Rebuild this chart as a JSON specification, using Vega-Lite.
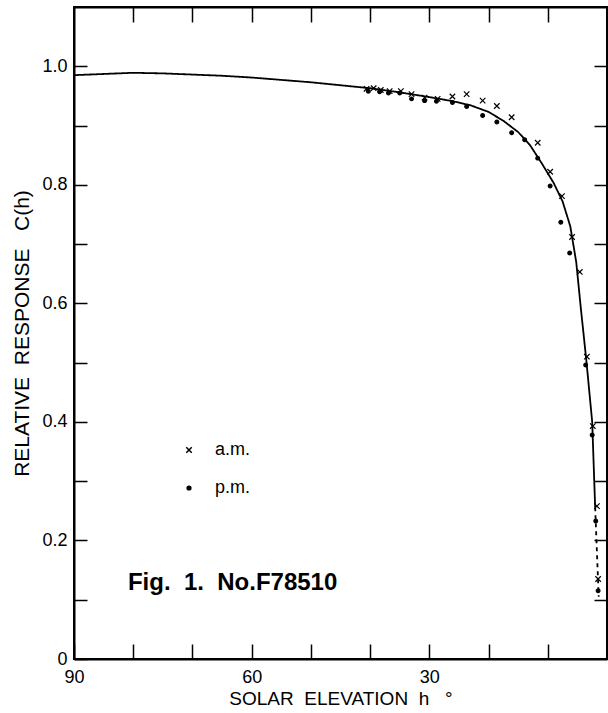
{
  "$schema": "https://vega.github.io/schema/vega-lite/v6.json",
  "width": 533,
  "height": 652,
  "autosize": {"type": "none"},
  "padding": {"left": 74, "top": 7, "right": 1, "bottom": 54},
  "background": "white",
  "config": {
    "view": {"stroke": "black", "strokeWidth": 2},
    "font": "Liberation Sans",
    "axis": {"grid": false, "domainColor": "black", "tickColor": "black", "labelColor": "black", "titleColor": "black", "labelFont": "Liberation Sans", "titleFont": "Liberation Sans", "titleFontWeight": "normal"}
  },
  "datasets": {
    "curve": [
      {"h": 90, "c": 0.985, "seg": "solid"},
      {"h": 85, "c": 0.987, "seg": "solid"},
      {"h": 80, "c": 0.989, "seg": "solid"},
      {"h": 75, "c": 0.988, "seg": "solid"},
      {"h": 70, "c": 0.986, "seg": "solid"},
      {"h": 65, "c": 0.984, "seg": "solid"},
      {"h": 60, "c": 0.981, "seg": "solid"},
      {"h": 55, "c": 0.977, "seg": "solid"},
      {"h": 50, "c": 0.973, "seg": "solid"},
      {"h": 45, "c": 0.968, "seg": "solid"},
      {"h": 40, "c": 0.963, "seg": "solid"},
      {"h": 35, "c": 0.956, "seg": "solid"},
      {"h": 30, "c": 0.948, "seg": "solid"},
      {"h": 26, "c": 0.941, "seg": "solid"},
      {"h": 23, "c": 0.934, "seg": "solid"},
      {"h": 20, "c": 0.923, "seg": "solid"},
      {"h": 17.5, "c": 0.908, "seg": "solid"},
      {"h": 15, "c": 0.889, "seg": "solid"},
      {"h": 13, "c": 0.867, "seg": "solid"},
      {"h": 11, "c": 0.836, "seg": "solid"},
      {"h": 9, "c": 0.803, "seg": "solid"},
      {"h": 7.5, "c": 0.772, "seg": "solid"},
      {"h": 6.2, "c": 0.730, "seg": "solid"},
      {"h": 5.2, "c": 0.670, "seg": "solid"},
      {"h": 4.4, "c": 0.590, "seg": "solid"},
      {"h": 3.5, "c": 0.505, "seg": "solid"},
      {"h": 2.5, "c": 0.400, "seg": "solid"},
      {"h": 2.0, "c": 0.256, "seg": "solid"},
      {"h": 2.0, "c": 0.256, "seg": "dashed"},
      {"h": 1.7, "c": 0.180, "seg": "dashed"},
      {"h": 1.4, "c": 0.105, "seg": "dashed"}
    ],
    "obs": [
      {"h": 40.6, "c": 0.962, "t": "a.m."},
      {"h": 39.4, "c": 0.963, "t": "a.m."},
      {"h": 38.2, "c": 0.960, "t": "a.m."},
      {"h": 36.7, "c": 0.958, "t": "a.m."},
      {"h": 34.8, "c": 0.958, "t": "a.m."},
      {"h": 33.0, "c": 0.953, "t": "a.m."},
      {"h": 30.8, "c": 0.947, "t": "a.m."},
      {"h": 28.6, "c": 0.945, "t": "a.m."},
      {"h": 26.1, "c": 0.949, "t": "a.m."},
      {"h": 23.7, "c": 0.953, "t": "a.m."},
      {"h": 21.0, "c": 0.942, "t": "a.m."},
      {"h": 18.6, "c": 0.933, "t": "a.m."},
      {"h": 16.1, "c": 0.914, "t": "a.m."},
      {"h": 11.7, "c": 0.871, "t": "a.m."},
      {"h": 9.6, "c": 0.822, "t": "a.m."},
      {"h": 7.6, "c": 0.781, "t": "a.m."},
      {"h": 5.9, "c": 0.712, "t": "a.m."},
      {"h": 4.6, "c": 0.653, "t": "a.m."},
      {"h": 3.4, "c": 0.510, "t": "a.m."},
      {"h": 2.4, "c": 0.393, "t": "a.m."},
      {"h": 1.7, "c": 0.258, "t": "a.m."},
      {"h": 1.5, "c": 0.135, "t": "a.m."},
      {"h": 40.3, "c": 0.958, "t": "p.m."},
      {"h": 38.4, "c": 0.957, "t": "p.m."},
      {"h": 36.9, "c": 0.955, "t": "p.m."},
      {"h": 35.0, "c": 0.955, "t": "p.m."},
      {"h": 33.0, "c": 0.945, "t": "p.m."},
      {"h": 30.8, "c": 0.942, "t": "p.m."},
      {"h": 28.8, "c": 0.941, "t": "p.m."},
      {"h": 26.1, "c": 0.939, "t": "p.m."},
      {"h": 23.7, "c": 0.932, "t": "p.m."},
      {"h": 21.0, "c": 0.917, "t": "p.m."},
      {"h": 18.6, "c": 0.906, "t": "p.m."},
      {"h": 16.1, "c": 0.888, "t": "p.m."},
      {"h": 13.9, "c": 0.876, "t": "p.m."},
      {"h": 11.7, "c": 0.845, "t": "p.m."},
      {"h": 9.6, "c": 0.798, "t": "p.m."},
      {"h": 7.8, "c": 0.737, "t": "p.m."},
      {"h": 6.3, "c": 0.685, "t": "p.m."},
      {"h": 3.6, "c": 0.496, "t": "p.m."},
      {"h": 2.5, "c": 0.378, "t": "p.m."},
      {"h": 1.9, "c": 0.233, "t": "p.m."},
      {"h": 1.5, "c": 0.115, "t": "p.m."}
    ],
    "notes": [
      {"h": 80.9, "c": 0.116, "label": "Fig.\u00a0\u00a01.\u00a0\u00a0No.F78510"}
    ]
  },
  "layer": [
    {
      "data": {"name": "curve"},
      "mark": {"type": "line", "color": "black", "strokeWidth": 1.8},
      "encoding": {
        "x": {"field": "h", "type": "quantitative", "scale": {"domain": [0, 90], "reverse": true, "nice": false, "zero": false},
          "axis": {"orient": "bottom", "values": [10, 20, 30, 40, 50, 60, 70, 80, 90], "tickSize": -15, "tickWidth": 1.5, "domainWidth": 2,
            "labelExpr": "datum.value % 30 == 0 ? datum.label : ''", "labelFontSize": 18, "labelPadding": 24, "labelFlush": false,
            "title": "SOLAR\u00a0\u00a0ELEVATION\u00a0\u00a0h\u00a0\u00a0\u00a0\u00b0", "titleFontSize": 19, "titlePadding": 3}},
        "y": {"field": "c", "type": "quantitative", "scale": {"domain": [0, 1.1], "nice": false, "zero": true},
          "axis": {"orient": "left", "values": [0, 0.1, 0.2, 0.3, 0.4, 0.5, 0.6, 0.7, 0.8, 0.9, 1.0], "tickSize": -13, "tickWidth": 1.5, "domainWidth": 2,
            "labelExpr": "datum.value == 0 ? '0' : (round(datum.value * 10) % 2 == 0 ? format(datum.value, '.1f') : '')", "labelFontSize": 18, "labelPadding": 20, "labelFlush": false,
            "title": "RELATIVE\u00a0\u00a0RESPONSE\u00a0\u00a0\u00a0C(h)", "titleFontSize": 21, "titlePadding": 9}},
        "strokeDash": {"field": "seg", "type": "nominal", "scale": {"domain": ["solid", "dashed"], "range": [[1, 0], [4, 4]]}, "legend": null}
      }
    },
    {
      "data": {"name": "obs"},
      "mark": {"type": "point", "filled": true, "fill": "black", "stroke": "black", "strokeWidth": 1.2, "opacity": 1},
      "encoding": {
        "x": {"field": "h", "type": "quantitative",
          "axis": {"orient": "top", "values": [10, 20, 30, 40, 50, 60, 70, 80], "tickSize": -15, "tickWidth": 1.5, "labels": false, "title": null, "domainWidth": 2}},
        "y": {"field": "c", "type": "quantitative",
          "axis": {"orient": "right", "values": [0.1, 0.2, 0.3, 0.4, 0.5, 0.6, 0.7, 0.8, 0.9, 1.0], "tickSize": -13, "tickWidth": 1.5, "labels": false, "title": null, "domainWidth": 2}},
        "shape": {"field": "t", "type": "nominal", "scale": {"domain": ["a.m.", "p.m."], "range": ["M-1,-1L1,1M-1,1L1,-1", "circle"]},
          "legend": {"title": null, "orient": "none", "legendX": 106, "legendY": 434, "labelFontSize": 18, "labelFont": "Liberation Sans", "labelOffset": 17, "rowPadding": 20, "symbolStrokeWidth": 1.5, "symbolFillColor": "black", "symbolStrokeColor": "black"}},
        "size": {"field": "t", "type": "nominal", "scale": {"domain": ["a.m.", "p.m."], "range": [30, 14]}}
      }
    },
    {
      "data": {"name": "notes"},
      "mark": {"type": "text", "align": "left", "baseline": "alphabetic", "fontSize": 24, "fontWeight": "bold", "font": "Liberation Sans", "color": "black"},
      "encoding": {
        "x": {"field": "h", "type": "quantitative", "axis": null},
        "y": {"field": "c", "type": "quantitative", "axis": null},
        "text": {"field": "label"}
      }
    }
  ],
  "resolve": {"axis": {"x": "independent", "y": "independent"}}
}
